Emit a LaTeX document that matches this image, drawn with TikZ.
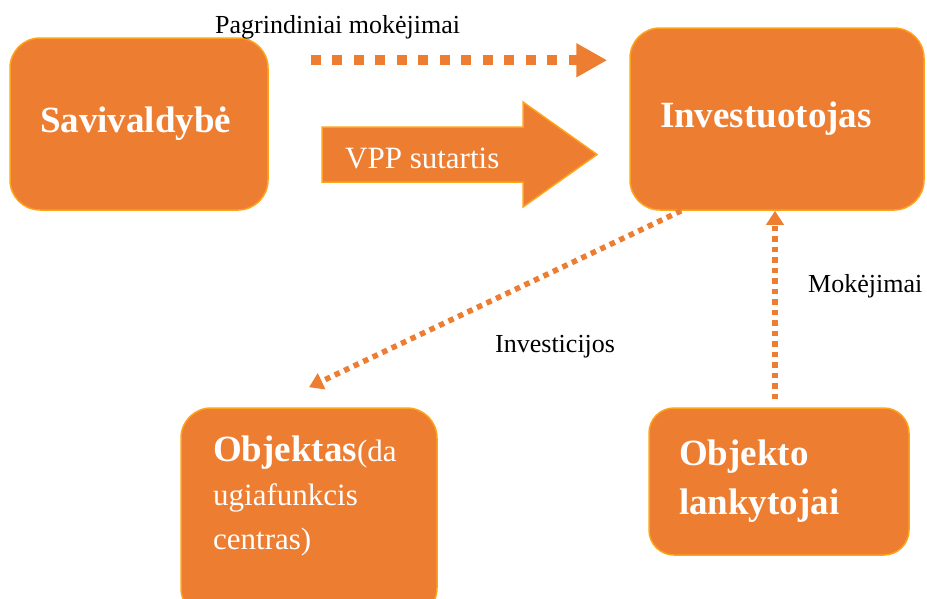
\documentclass[tikz,border=0pt]{standalone}
\usepackage{fontspec}
\setmainfont{Liberation Serif}
\usetikzlibrary{arrows.meta}
\definecolor{boxfill}{HTML}{ED7D31}
\definecolor{boxedge}{HTML}{FFA31A}
\newcommand\boxfont{\fontsize{37}{49}\selectfont\bfseries}
\newcommand\midfont{\fontsize{31}{44}\selectfont}
\newcommand\labfont{\fontsize{26}{30}\selectfont}
\tikzset{
  box/.style={draw=boxedge,fill=boxfill,line width=1.5pt,rounded corners=30pt,
    text=white,inner ysep=0pt,inner xsep=30pt,align=left,font=\boxfont},
  bigdots/.style={draw=boxfill,line width=10pt,dash pattern=on 10pt off 11.5pt,
    -{Triangle[length=31pt,width=32pt]}},
  smalldots/.style={draw=boxfill,line width=5.5pt,dash pattern=on 5.5pt off 5pt,
    -{Triangle[length=14pt,width=17pt]}},
  lab/.style={anchor=base west,inner sep=0pt,font=\labfont}
}
\begin{document}
\begin{tikzpicture}[x=1pt,y=-1pt]
\useasboundingbox (0,0) rectangle (927,598);
\clip (0,0) rectangle (927,598);
% boxes
\node[box,minimum width=258pt,minimum height=172pt,text width=198pt] (sav) at (139,124) {Savivaldybė};
\node[box,minimum width=294pt,minimum height=182pt,text width=234pt] (inv) at (777,119) {Investuotojas};
\node[box,minimum width=256pt,minimum height=210pt] (obj) at (309,513) {};
\node[anchor=north west,inner sep=0pt,align=left,text=white,font=\midfont] (objtext) at (213,436)
  {{\fontsize{37}{44}\selectfont\bfseries Objektas}(da\\ugiafunkcis\\centras)};
\node[box,rounded corners=25pt,minimum width=258pt,minimum height=147pt,text width=200pt] (lank) at (779,481.5) {Objekto\\lankytojai};
% block arrow
\draw[draw=boxedge,fill=boxfill,line width=1.5pt] (322,127) -- (523,127) -- (523,102) -- (597,154.5)
  -- (523,207) -- (523,182) -- (322,182) -- cycle;
\node[anchor=base west,inner sep=0pt,text=white,font=\midfont] (vpp) at (345,168) {VPP sutartis};
% dotted connectors
\draw[bigdots] ([shift={(42pt,-23pt)}]sav.north east) -- ([shift={(-22pt,-33pt)}]inv.north west);
\draw[smalldots] ([xshift=52pt]inv.south west) -- ([yshift=20pt]obj.north);
\draw[smalldots] ([shift={(-4pt,8pt)}]lank.north) -- ([xshift=-2pt]inv.south);
% labels
\node[lab] (paylab) at (215,33) {Pagrindiniai mokėjimai};
\node[lab] (invlab) at (495,352) {Investicijos};
\node[lab] (moklab) at (808,292) {Mokėjimai};
\end{tikzpicture}
\end{document}
